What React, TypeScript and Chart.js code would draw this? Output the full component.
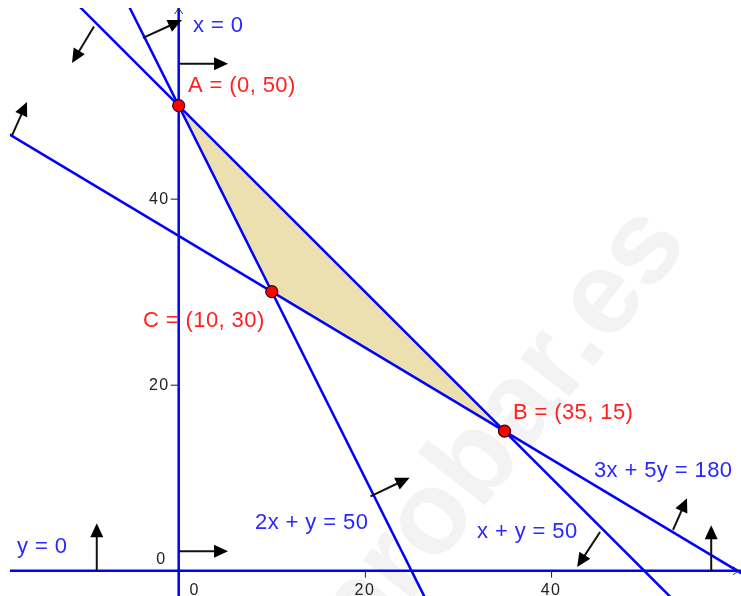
import React, { useEffect, useRef } from "react";
import { Chart, registerables } from "chart.js";

Chart.register(...registerables);

// ---- view window (data units) ----
const X_MIN = -18.12;
const X_MAX = 60.4;
const Y_MIN = -2.72;
const Y_MAX = 60.5;

// ---- constraint lines a*x + b*y = c ----
const lineA = [1, 0, 2, 1, 3];
const lineB = [0, 1, 1, 1, 5];
const lineC = [0, 0, 50, 50, 180];

// ---- vertices of the feasible region ----
const vertexNames = ["A", "B", "C"];
const vertexX = [0, 35, 10];
const vertexY = [50, 15, 30];

// ---- axis ticks ----
const xTicks = [0, 20, 40];
const yTicks = [0, 20, 40];
const xTickLabels = ["0", "20", "40"];
const yTickLabels = ["0", "20", "40"];

// ---- half-plane direction vectors (start -> end, data units) ----
const arrowX1 = [0, 0, -8.8, 57.2, -3.83, 20.6, -9.1, 45.26, -17.9, 53.1];
const arrowY1 = [54.5, 2.1, 0, 0, 57.28, 8.0, 58.5, 4.16, 46.8, 4.38];
const arrowX2 = [5.3, 5.3, -8.8, 57.2, 0.35, 24.8, -11.46, 42.8, -16.3, 54.6];
const arrowY2 = [54.5, 2.1, 5.1, 4.9, 59.2, 10.0, 54.6, 0.4, 50.4, 7.8];

// ---- text labels (anchor = left / middle, data units) ----
const labelTexts = [
  "x = 0",
  "A = (0, 50)",
  "C = (10, 30)",
  "B = (35, 15)",
  "3x + 5y = 180",
  "x + y = 50",
  "2x + y = 50",
  "y = 0",
];
const labelX = [1.55, 1.0, -3.83, 35.9, 44.6, 32.04, 8.2, -17.37];
const labelY = [58.55, 52.13, 26.85, 16.96, 10.72, 4.13, 5.13, 2.55];
const labelIsPoint = [false, true, true, true, false, false, false, false];

const WATERMARK = "aprobar.es";
const watermarkX = 54.92;
const watermarkY = 35.24;

const BLUE = "#0000ff";
const LABEL_BLUE = "#2828ff";
const RED = "#ff0000";
const LABEL_RED = "#ff2020";
const FILL = "rgb(236,224,176)";
const FONT = '"Liberation Sans", Arial, sans-serif';

function lineEndpoints(a: number, b: number, c: number) {
  if (b === 0) {
    const x = c / a;
    return [
      { x, y: Y_MIN - 5 },
      { x, y: Y_MAX + 5 },
    ];
  }
  const x1 = X_MIN - 5;
  const x2 = X_MAX + 5;
  return [
    { x: x1, y: (c - a * x1) / b },
    { x: x2, y: (c - a * x2) / b },
  ];
}

function drawArrow(ctx: CanvasRenderingContext2D, x1: number, y1: number, x2: number, y2: number) {
  const ang = Math.atan2(y2 - y1, x2 - x1);
  const head = 14;
  const hw = 6.5;
  const c = Math.cos(ang);
  const s = Math.sin(ang);
  const bx = x2 - head * c;
  const by = y2 - head * s;
  ctx.beginPath();
  ctx.moveTo(x1, y1);
  ctx.lineTo(bx + 1 * c, by + 1 * s);
  ctx.stroke();
  ctx.beginPath();
  ctx.moveTo(x2, y2);
  ctx.lineTo(bx - hw * s, by + hw * c);
  ctx.lineTo(bx + hw * s, by - hw * c);
  ctx.closePath();
  ctx.fill();
}

const overlayPlugin = {
  id: "lpOverlay",
  beforeDatasetsDraw(chart: any) {
    const { ctx, scales } = chart;
    const px = scales.x.getPixelForValue(watermarkX);
    const py = scales.y.getPixelForValue(watermarkY);
    ctx.save();
    ctx.translate(px, py);
    ctx.rotate((-52 * Math.PI) / 180);
    ctx.font = `bold 118px ${FONT}`;
    ctx.fillStyle = "rgb(243,243,243)";
    ctx.textAlign = "right";
    ctx.textBaseline = "alphabetic";
    ctx.fillText(WATERMARK, 0, 0);
    ctx.restore();
  },
  afterDatasetsDraw(chart: any) {
    const { ctx, scales, chartArea } = chart;
    const xs = scales.x;
    const ys = scales.y;
    const ox = xs.getPixelForValue(0);
    const oy = ys.getPixelForValue(0);
    ctx.save();

    // axis end chevrons
    ctx.strokeStyle = "#333";
    ctx.lineWidth = 1;
    ctx.beginPath();
    ctx.moveTo(ox - 4, chartArea.top + 6);
    ctx.lineTo(ox, chartArea.top);
    ctx.lineTo(ox + 4, chartArea.top + 6);
    ctx.moveTo(chartArea.right - 8, oy - 4);
    ctx.lineTo(chartArea.right - 2, oy);
    ctx.lineTo(chartArea.right - 8, oy + 4);
    ctx.stroke();

    // tick marks + labels
    ctx.strokeStyle = "#222";
    ctx.fillStyle = "#222";
    ctx.lineWidth = 1;
    ctx.font = `16px ${FONT}`;
    (ctx as any).letterSpacing = "1.5px";
    xTicks.forEach((t, i) => {
      const p = xs.getPixelForValue(t);
      if (t !== 0) {
        ctx.beginPath();
        ctx.moveTo(p + 0.5, oy);
        ctx.lineTo(p + 0.5, oy + 7);
        ctx.stroke();
      }
      ctx.textAlign = "center";
      ctx.textBaseline = "top";
      ctx.fillText(xTickLabels[i], t === 0 ? p + 16 : p, oy + 12);
    });
    yTicks.forEach((t, i) => {
      const p = ys.getPixelForValue(t);
      ctx.textAlign = "right";
      ctx.textBaseline = "middle";
      if (t !== 0) {
        ctx.beginPath();
        ctx.moveTo(ox - 8, p + 0.5);
        ctx.lineTo(ox, p + 0.5);
        ctx.stroke();
        ctx.fillText(yTickLabels[i], ox - 9, p + 1);
      } else {
        ctx.fillText(yTickLabels[i], ox - 12, p - 11);
      }
    });

    // direction arrows
    ctx.strokeStyle = "#111";
    ctx.fillStyle = "#000";
    ctx.lineWidth = 2;
    ctx.lineCap = "butt";
    for (let i = 0; i < arrowX1.length; i++) {
      drawArrow(
        ctx,
        xs.getPixelForValue(arrowX1[i]),
        ys.getPixelForValue(arrowY1[i]),
        xs.getPixelForValue(arrowX2[i]),
        ys.getPixelForValue(arrowY2[i])
      );
    }

    // labels
    ctx.font = `22px ${FONT}`;
    (ctx as any).letterSpacing = "0.4px";
    ctx.textAlign = "left";
    ctx.textBaseline = "middle";
    labelTexts.forEach((t, i) => {
      ctx.fillStyle = labelIsPoint[i] ? LABEL_RED : LABEL_BLUE;
      ctx.fillText(t, xs.getPixelForValue(labelX[i]), ys.getPixelForValue(labelY[i]));
    });
    ctx.restore();
  },
};

export default function App() {
  const ref = useRef<HTMLCanvasElement | null>(null);

  useEffect(() => {
    if (!ref.current) return;
    const polygon = vertexX.map((x, i) => ({ x, y: vertexY[i] }));
    const lineSets = lineA.map((a, i) => ({
      label: `line${i}`,
      data: lineEndpoints(a, lineB[i], lineC[i]),
      showLine: true,
      borderColor: BLUE,
      borderWidth: 2.5,
      pointRadius: 0,
      fill: false,
      clip: 0,
      order: 5,
    }));
    const chart = new Chart(ref.current, {
      type: "scatter",
      data: {
        datasets: [
          {
            label: "region",
            data: [...polygon, polygon[0]],
            showLine: true,
            borderWidth: 0,
            borderColor: "rgba(0,0,0,0)",
            backgroundColor: FILL,
            pointRadius: 0,
            fill: "shape",
            clip: 0,
            order: 10,
          } as any,
          ...(lineSets as any[]),
          {
            label: vertexNames.join(","),
            data: polygon,
            showLine: false,
            pointRadius: 6,
            pointBackgroundColor: RED,
            pointBorderColor: "#300",
            pointBorderWidth: 1.2,
            clip: 0,
            order: 0,
          } as any,
        ],
      },
      options: {
        animation: false,
        responsive: false,
        events: [],
        layout: { autoPadding: false, padding: { left: 10, top: 8, right: 0, bottom: 0 } },
        plugins: {
          legend: { display: false },
          tooltip: { enabled: false },
        },
        scales: {
          x: { type: "linear", min: X_MIN, max: X_MAX, display: false },
          y: { type: "linear", min: Y_MIN, max: Y_MAX, display: false },
        },
      },
      plugins: [overlayPlugin],
    });
    return () => chart.destroy();
  }, []);

  return (
    <div style={{ position: "absolute", left: 0, top: 0, width: 741, height: 596, background: "#fff" }}>
      <canvas ref={ref} width={741} height={596} style={{ display: "block" }} />
    </div>
  );
}
